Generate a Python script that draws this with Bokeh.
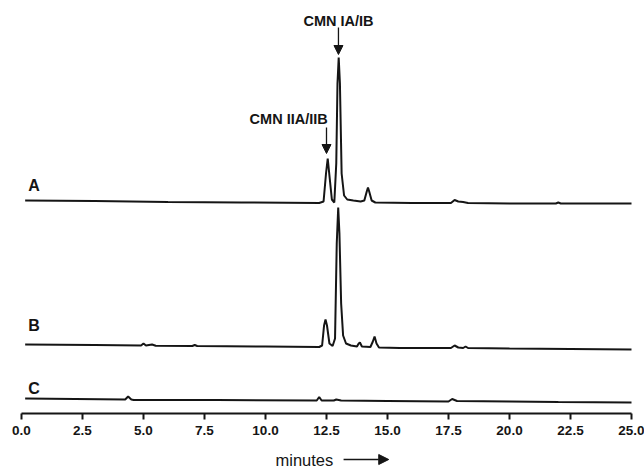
from bokeh.plotting import figure
from bokeh.models import Range1d, FixedTicker, Label, Arrow, NormalHead
from bokeh.embed import file_html
from bokeh.resources import INLINE

# ---- data (detector signal in arbitrary units, traces already offset) ----
time_a = [0.15, 3.0, 6.0, 9.0, 12.2, 12.38, 12.48, 12.55, 12.62, 12.72, 12.82, 12.9, 12.95, 13.0, 13.05,
          13.12, 13.22, 13.35, 13.6, 13.9, 14.05, 14.15, 14.2, 14.25, 14.35, 14.5, 16.0, 17.6, 17.75,
          17.9, 18.1, 18.3, 20.0, 21.9, 22.0, 22.1, 24.0, 25.0]
signal_a = [213, 212.5, 211.5, 211, 210.5, 212, 240, 255, 238, 214, 211, 250, 330, 356, 330,
            240, 218, 214, 213, 212, 213, 222, 226, 222, 213, 211, 210.5, 210.5, 213.5,
            212, 211.5, 210.5, 210, 210, 211, 210, 210, 210]

time_b = [0.15, 3.0, 4.9, 5.0, 5.1, 5.35, 5.5, 7.0, 7.1, 7.2, 10.0, 12.2, 12.32, 12.4, 12.46, 12.52,
          12.62, 12.75, 12.85, 12.92, 12.98, 13.03, 13.1, 13.18, 13.3, 13.5, 13.75, 13.82, 13.87,
          13.95, 14.3, 14.4, 14.47, 14.55, 14.65, 15.5, 17.6, 17.75, 17.9, 18.1, 18.2, 18.3, 20.0,
          22.5, 25.0]
signal_b = [69, 68.5, 68, 70, 68, 69, 67.8, 67.5, 68.5, 67.5, 67, 66.5, 68, 88, 94, 88,
            70, 67.5, 75, 170, 206, 180, 110, 78, 70, 68, 67, 70, 71,
            67, 66.5, 72, 77, 70, 66, 65.5, 65.5, 68, 66, 65.5, 67, 65.5, 65,
            64.5, 64]

time_c = [0.15, 4.25, 4.37, 4.5, 4.6, 8.0, 12.1, 12.2, 12.3, 12.8, 12.9, 13.1, 15.0, 17.5, 17.65,
          17.85, 20.0, 22.0, 25.0]
signal_c = [15, 14, 17, 14, 13.5, 13.5, 13, 16.5, 13, 13, 14, 13, 12.5, 12, 14.5,
            12.5, 12, 11.5, 11]

trace_names = ["A", "B", "C"]
trace_label_y = [228, 88, 25]

x_ticks = [0.0, 2.5, 5.0, 7.5, 10.0, 12.5, 15.0, 17.5, 20.0, 22.5, 25.0]
x_tick_labels = ["0.0", "2.5", "5.0", "7.5", "10.0", "12.5", "15.0", "17.5", "20.0", "22.5", "25.0"]

peak_names = ["CMN IA/IB", "CMN IIA/IIB"]
peak_times = [12.99, 12.5]
peak_label_y = [393, 295]
peak_arrow_top = [386, 286]
peak_arrow_tip = [359, 260]

INK = "#151515"

p = figure(width=644, height=468, output_backend="svg", toolbar_location=None,
           x_range=Range1d(-21 / 24.4, 25 + 13 / 24.4), y_range=Range1d(-55, 413),
           y_axis_location=None, min_border=0)
p.outline_line_color = None
p.xgrid.visible = False
p.ygrid.visible = False
p.background_fill_color = "white"
p.border_fill_color = "white"

for t, s in [(time_a, signal_a), (time_b, signal_b), (time_c, signal_c)]:
    p.line(x=t, y=s, line_color=INK, line_width=2)

ax = p.xaxis[0]
ax.fixed_location = 0
ax.bounds = (0, 25)
ax.ticker = FixedTicker(ticks=x_ticks)
ax.major_label_overrides = {tk: lb for tk, lb in zip(x_ticks, x_tick_labels)}
ax.minor_tick_line_color = None
ax.major_tick_in = 0
ax.major_tick_out = 6
ax.major_tick_line_width = 2
ax.major_tick_line_color = INK
ax.axis_line_width = 2
ax.axis_line_color = INK
ax.major_label_standoff = 6
ax.major_label_text_font = "Liberation Sans"
ax.major_label_text_font_style = "bold"
ax.major_label_text_font_size = "13.5px"
ax.major_label_text_color = INK

# trace labels
for name, ly in zip(trace_names, trace_label_y):
    p.add_layout(Label(x=0.28, y=ly, text=name, text_font="Liberation Sans", text_font_style="bold",
                       text_font_size="16px", text_color=INK, text_baseline="middle", text_align="left"))

# peak annotations
for i, (nm, pt, ly, at, tip) in enumerate(zip(peak_names, peak_times, peak_label_y, peak_arrow_top, peak_arrow_tip)):
    align = "center" if i == 0 else "right"
    p.add_layout(Label(x=pt + (0 if i == 0 else 0.05), y=ly, text=nm, text_font="Liberation Sans",
                       text_font_style="bold", text_font_size="14.5px", text_color=INK,
                       text_baseline="middle", text_align=align))
    p.add_layout(Arrow(x_start=pt, y_start=at, x_end=pt, y_end=tip, line_color=INK, line_width=1.3,
                       end=NormalHead(size=9, fill_color=INK, line_color=INK, line_width=1)))

# x-axis title with arrow
p.add_layout(Label(x=10.41, y=-46, text="minutes", text_font="Liberation Sans", text_font_size="16.5px",
                   text_color=INK, text_baseline="middle", text_align="left"))
p.add_layout(Arrow(x_start=13.2, y_start=-46, x_end=15.05, y_end=-46, line_color=INK, line_width=1.5,
                   end=NormalHead(size=10, fill_color=INK, line_color=INK, line_width=1)))

open("out.html", "w").write(file_html(p, INLINE))
